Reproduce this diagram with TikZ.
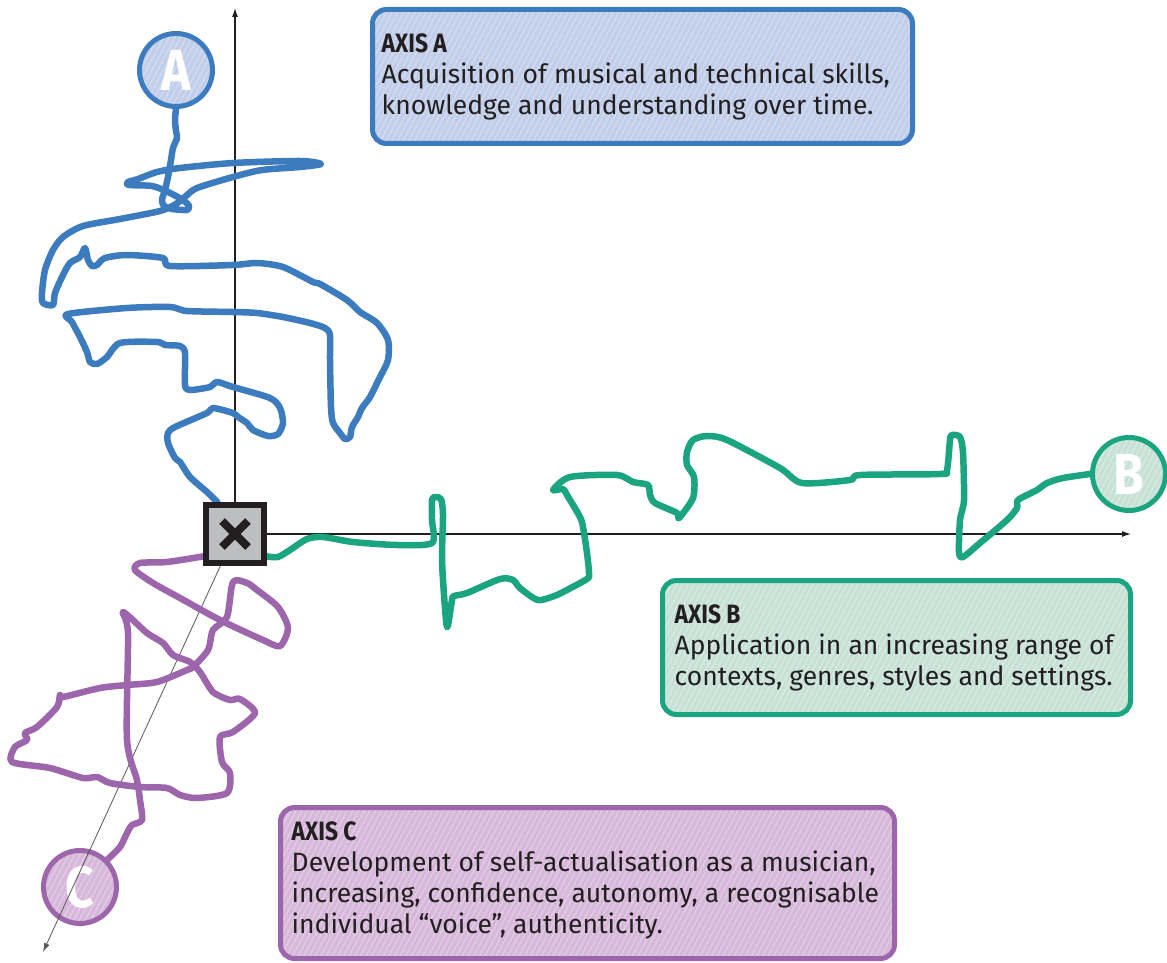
\documentclass[tikz,border=0pt]{standalone}
\usepackage{fontspec}
\setmainfont{Fira Sans}
\newfontfamily\titlefont[FakeStretch=0.86]{Fira Sans}
\usetikzlibrary{arrows.meta,patterns.meta}
\definecolor{axisA}{RGB}{61,123,191}
\definecolor{fillA}{RGB}{194,206,233}
\definecolor{stripeA}{RGB}{210,220,240}
\definecolor{axisB}{RGB}{26,165,128}
\definecolor{fillB}{RGB}{199,225,215}
\definecolor{stripeB}{RGB}{215,235,227}
\definecolor{axisC}{RGB}{157,101,171}
\definecolor{fillC}{RGB}{215,184,218}
\definecolor{stripeC}{RGB}{227,205,230}
\definecolor{ink}{RGB}{35,31,32}
\definecolor{boxgrey}{RGB}{188,190,192}
\tikzset{
  trail/.style={line width=6.5pt,line cap=round,line join=round},
  axisline/.style={line width=1.1pt,draw=ink,-{Latex[length=9pt,width=6pt]}},
  hatched/.style={preaction={fill=fill#1},pattern={Lines[angle=62,distance=5pt,line width=1.3pt]},pattern color=stripe#1},
  infobox/.style={draw=axis#1,hatched=#1,line width=5pt,rounded corners=14pt,inner sep=0pt},
  infotext/.style={align=left,text=ink,inner sep=0pt,font=\fontsize{26.5}{31}\selectfont},
  lettercirc/.style={circle,draw=axis#1,hatched=#1,line width=5pt,minimum size=73pt,inner sep=0pt,
    text=white,font=\titlefont\bfseries\fontsize{58}{58}\selectfont},
}
\begin{document}
\begin{tikzpicture}[x=1pt,y=-1pt]
\useasboundingbox (0,0) rectangle (1167,963);
%
\node[draw=ink,line width=6pt,fill=boxgrey,minimum size=58pt,inner sep=0pt] (origin) at (235,534) {};
\node[lettercirc=A] (A) at (176,70) {A};
\node[lettercirc=B] (B) at (1129,474) {B};
\node[lettercirc=C] (C) at (80,887) {C};
\coordinate (yend) at (235,8);
\coordinate (xend) at (1131,534);
\coordinate (zend) at (43,952);
%
\draw[axisline] (origin.center) -- (yend);
\draw[axisline] (origin.center) -- (xend);
\draw[axisline,line width=0.8pt,draw=ink!75] (origin.center) -- (zend);
%
\draw[trail,axisA] plot[smooth,tension=0.45] coordinates {(A.south) (175,120) (176,131) (177,138) (173,148) (171,160)
  (168,177) (165,190) (162,200) (164,206) (172,209) (187,210) (189,206) (183,200) (168,192) (152,186) (129,185)
  (128,182) (138,179) (157,172) (180,168) (233,163) (300,161) (321,164) (300,167) (262,170) (233,177) (197,188)
  (186,196) (176,204) (160,211) (120,219) (83,226) (63,237) (53,250) (45,270) (42,293) (43,303) (53,305) (55,293)
  (63,275) (70,263) (80,257) (85,248) (88,260) (92,266) (97,265) (105,258) (127,255) (163,258) (170,266) (233,265)
  (257,263) (283,267) (313,282) (320,284) (347,300) (360,312) (377,323) (388,340) (388,360) (380,377) (370,397)
  (362,408) (358,417) (352,427) (350,437) (345,439) (340,433) (333,423) (331,407) (330,360) (330,335) (325,328)
  (310,323) (283,317) (257,313) (233,312) (187,311) (170,307) (127,308) (68,314) (72,322) (80,337) (87,352)
  (90,362) (97,364) (107,357) (120,343) (157,342) (165,345) (180,346) (185,353) (185,385) (190,390) (210,387)
  (217,382) (233,387) (270,398) (280,408) (283,423) (278,434) (268,436) (253,430) (247,423) (238,417) (233,413)
  (213,408) (207,413) (175,427) (168,433) (168,443) (175,458) (180,462) (190,477) (207,492) (origin.119)};
\draw[trail,axisB] plot[smooth,tension=0.45] coordinates {(origin.-35) (278,557) (290,550) (307,539) (323,537)
  (353,542) (397,545) (432,543) (432,520) (432,500) (435,497) (441,499) (443,515) (442,553) (443,580) (447,627)
  (452,600) (454,596) (467,593) (500,579) (513,580) (520,588) (538,600) (557,595) (563,592) (587,579) (589,573)
  (587,553) (583,527) (580,517) (567,495) (563,489) (553,490) (570,477) (617,475) (633,482) (648,485) (650,495)
  (655,503) (677,513) (679,518) (693,498) (694,477) (687,465) (687,452) (693,440) (707,436) (727,440) (780,468)
  (802,483) (850,480) (860,475) (940,474) (947,470) (950,440) (952,435) (960,437) (963,453) (964,500) (960,520)
  (959,552) (963,557) (980,543) (1007,520) (1017,508) (1018,500) (1037,490) (1047,483) (1063,478) (B.west)};
\draw[trail,axisC] plot[smooth,tension=0.45] coordinates {(origin.215) (167,562) (140,563) (135,570) (153,583)
  (180,598) (220,620) (263,640) (280,646) (288,628) (278,607) (257,590) (247,583) (233,582) (227,617) (213,630)
  (208,650) (193,667) (187,670) (157,682) (127,685) (100,688) (63,697) (60,695) (57,707) (37,727) (25,733)
  (27,740) (15,747) (12,762) (50,768) (83,778) (97,777) (110,783) (140,787) (167,788) (180,795) (197,798)
  (227,793) (230,773) (222,762) (220,737) (233,732) (255,713) (240,699) (230,700) (213,692) (200,672) (190,662)
  (173,655) (163,643) (147,633) (123,612) (128,633) (127,740) (137,780) (140,800) (142,820) (132,825) (127,833)
  (120,847) (C.45)};
%
\node[draw=ink,line width=6pt,fill=boxgrey,minimum size=58pt,inner sep=0pt] at (origin) {};
\draw[line width=8pt,ink] ([shift={(-13,-13)}]origin.center) -- ([shift={(13,13)}]origin.center);
\draw[line width=8pt,ink] ([shift={(-13,13)}]origin.center) -- ([shift={(13,-13)}]origin.center);
%
\node[infobox=A,minimum width=540pt,minimum height=134pt,anchor=north west] (boxA) at (370,7) {};
\node[infotext,anchor=west] (textA) at ([xshift=11.5pt]boxA.west)
  {{\titlefont\bfseries AXIS A}\\Acquisition of musical and technical skills,\\knowledge and understanding over time.};
\node[infobox=B,minimum width=468pt,minimum height=134pt,anchor=north west] (boxB) at (660,578) {};
\node[infotext,anchor=west] (textB) at ([xshift=14.5pt]boxB.west)
  {{\titlefont\bfseries AXIS B}\\Application in an increasing range of\\contexts, genres, styles and settings.};
\node[infobox=C,minimum width=614pt,minimum height=151pt,anchor=north west] (boxC) at (278,805) {};
\node[infotext,anchor=west] (textC) at ([xshift=13.5pt,yshift=3pt]boxC.west)
  {{\titlefont\bfseries AXIS C}\\Development of self-actualisation as a musician,\\increasing, confidence, autonomy, a recognisable\\individual “voice”, authenticity.};
\end{tikzpicture}
\end{document}
